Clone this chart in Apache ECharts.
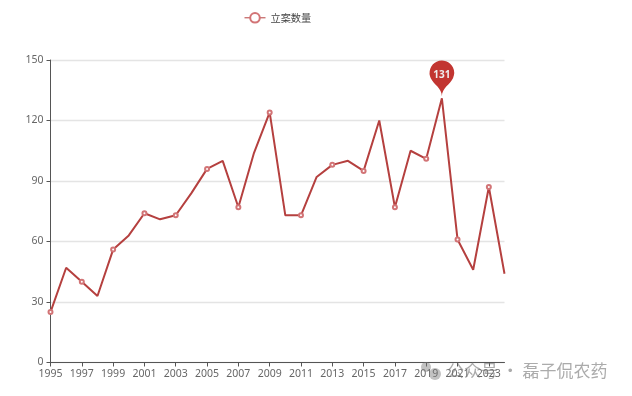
<!DOCTYPE html>
<html><head><meta charset="utf-8">
<style>html,body{margin:0;padding:0;background:#fff}#c{width:632px;height:396px}</style>
<script src="https://cdn.jsdelivr.net/npm/echarts@6/dist/echarts.min.js"></script></head>
<body><div id="c"></div>
<script>
const years=['1995','1996','1997','1998','1999','2000','2001','2002','2003','2004','2005','2006','2007','2008','2009','2010','2011','2012','2013','2014','2015','2016','2017','2018','2019','2020','2021','2022','2023','2024'];
const seriesName='立案数量';
const counts=[25,47,40,33,56,63,74,71,73,84,96,100,77,104,124,73,73,92,98,100,95,120,77,105,101,131,61,46,87,44];
const watermark='公众号 · 磊子侃农药';
const font='"Noto Sans","Noto Sans CJK SC",sans-serif';
const chart=echarts.init(document.getElementById('c'),null,{renderer:'canvas'});
chart.setOption({
 animation:false,
 textStyle:{fontFamily:font},
 color:['#b5403f'],
 legend:{left:239,top:7,itemWidth:21,itemHeight:12,itemGap:10,
  lineStyle:{width:1},itemStyle:{borderWidth:1},
  textStyle:{fontSize:10.2,color:'#444',fontFamily:'"Noto Sans CJK SC",sans-serif'},data:[seriesName]},
 grid:{left:50.5,right:127.5,top:60,bottom:33.5,containLabel:false},
 xAxis:{type:'category',data:years,boundaryGap:false,
  axisLine:{lineStyle:{color:'#555',width:1}},
  axisTick:{show:true,length:4,lineStyle:{color:'#555'},interval:1},
  axisLabel:{interval:1,fontSize:10.5,color:'#666',margin:6,hideOverlap:false},
  splitLine:{show:false}},
 yAxis:{type:'value',min:0,max:150,interval:30,
  axisLine:{show:true,lineStyle:{color:'#555',width:1}},
  axisTick:{show:true,length:4,lineStyle:{color:'#555'}},
  axisLabel:{fontSize:10.5,color:'#666',margin:7},
  splitLine:{show:true,lineStyle:{color:'#e4e4e4',width:1.4}}},
 series:[{name:seriesName,type:'line',data:counts,symbol:'emptyCircle',symbolSize:4,showSymbol:true,showAllSymbol:false,
  lineStyle:{width:2,color:'#b5403f'},itemStyle:{color:'#d27476',borderWidth:0.9},
  markPoint:{symbol:'pin',symbolSize:41,symbolOffset:[0,-2],
   itemStyle:{color:'#c23531'},
   label:{color:'#eee',fontSize:10,fontWeight:'bold'},
   data:[{type:'max',name:'最大值'}]}}],
 graphic:[
  {type:'circle',silent:true,z:99,shape:{cx:426,cy:367,r:5},style:{fill:'rgba(120,120,120,0.45)'}},
  {type:'circle',silent:true,z:99,shape:{cx:435,cy:374,r:6},style:{fill:'rgba(120,120,120,0.45)'}},
  {type:'text',left:447,top:362,silent:true,z:100,
  style:{text:watermark,fill:'rgba(120,120,120,0.62)',fontSize:17,fontFamily:'"Noto Sans CJK SC",sans-serif'}}]
});
</script></body></html>
